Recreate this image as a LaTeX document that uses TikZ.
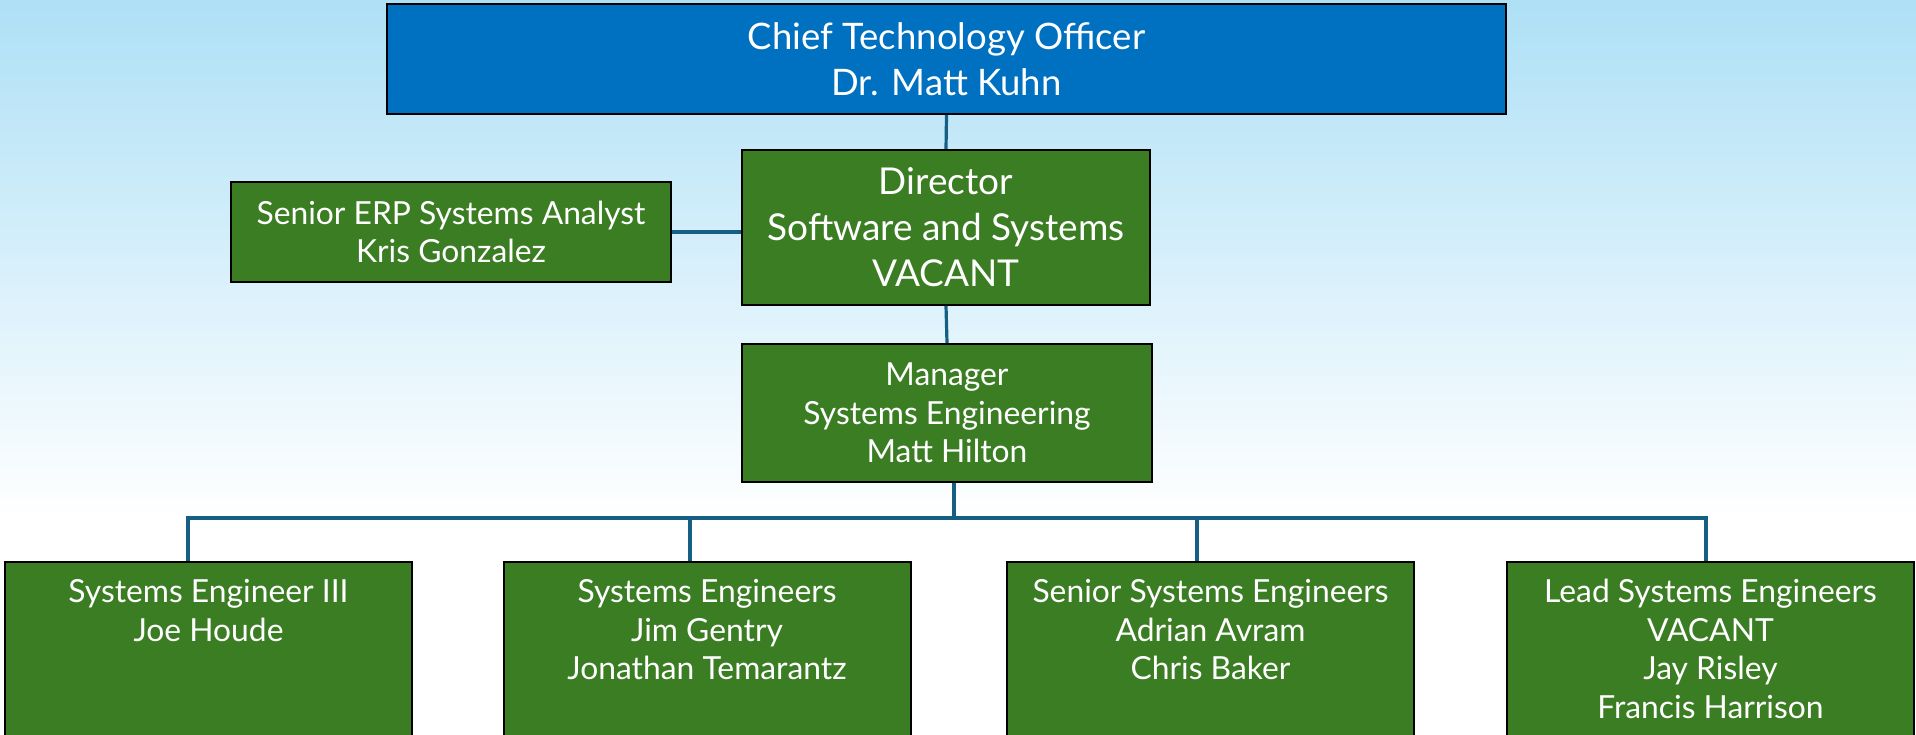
\documentclass[tikz,border=0pt]{standalone}
\usepackage{fontspec}
\setmainfont{Lato}
\definecolor{ctoblue}{HTML}{0070C0}
\definecolor{boxgreen}{HTML}{3B7D23}
\definecolor{linkblue}{HTML}{156082}
\definecolor{skyblue}{HTML}{AEE0F6}
\begin{document}
\begin{tikzpicture}[x=1pt,y=-1pt,
  box/.style={draw=black, line width=2pt, fill=boxgreen, text=white, align=center, inner sep=0pt},
  bigtext/.style={font=\fontsize{36.5}{46}\selectfont},
  smalltext/.style={font=\fontsize{31.8}{38.5}\selectfont},
  lowbox/.style={box, smalltext, anchor=north, minimum width=407pt, inner ysep=17.5pt},
  link/.style={draw=linkblue, line width=3.2pt, line join=miter}]
\useasboundingbox (0,0) rectangle (1916,735);
\shade[top color=skyblue, bottom color=white] (0,0) rectangle (1916,520);
\fill[white] (0,520) rectangle (1916,735);

\node[box, fill=ctoblue, bigtext, minimum width=1119pt, minimum height=110pt] (cto) at (946.5,59) {Chief Technology Officer\\Dr. Matt Kuhn};
\node[box, font=\fontsize{37}{46}\selectfont, minimum width=408pt, minimum height=155pt] (dir) at (946,227.5) {Director\\Software and Systems\\VACANT};
\node[box, smalltext, minimum width=440pt, minimum height=100pt] (erp) at (451,232) {Senior ERP Systems Analyst\\Kris Gonzalez};
\node[box, smalltext, minimum width=410pt, minimum height=138pt] (mgr) at (947,413) {Manager\\Systems Engineering\\Matt Hilton};

\node[lowbox] (b1) at (208.5,561) {\parbox[t][200pt][t]{400pt}{\centering Systems Engineer III\\Joe Houde}};
\node[lowbox] (b2) at (707,561) {\parbox[t][200pt][t]{400pt}{\centering Systems Engineers\\Jim Gentry\\Jonathan Temarantz}};
\node[lowbox] (b3) at (1210.5,561) {\parbox[t][200pt][t]{400pt}{\centering Senior Systems Engineers\\Adrian Avram\\Chris Baker}};
\node[lowbox] (b4) at (1710.5,561) {\parbox[t][200pt][t]{400pt}{\centering Lead Systems Engineers\\VACANT\\Jay Risley\\Francis Harrison}};

\coordinate (bar) at (954,518);
\coordinate (j1) at (188,518);
\coordinate (j2) at (690,518);
\coordinate (j3) at (1197,518);
\coordinate (j4) at (1706,518);

\draw[link] (cto.south) -- (dir.north);
\draw[link] (erp.east) -- (erp.east -| dir.west);
\draw[link] (dir.south) -- (mgr.north);
\draw[link] (mgr.south -| bar) -- (bar);
\draw[link] (b1.north -| j1) -- (j1) -- (j4) -- (b4.north -| j4);
\draw[link] (j2) -- (b2.north -| j2);
\draw[link] (j3) -- (b3.north -| j3);
\end{tikzpicture}
\end{document}
